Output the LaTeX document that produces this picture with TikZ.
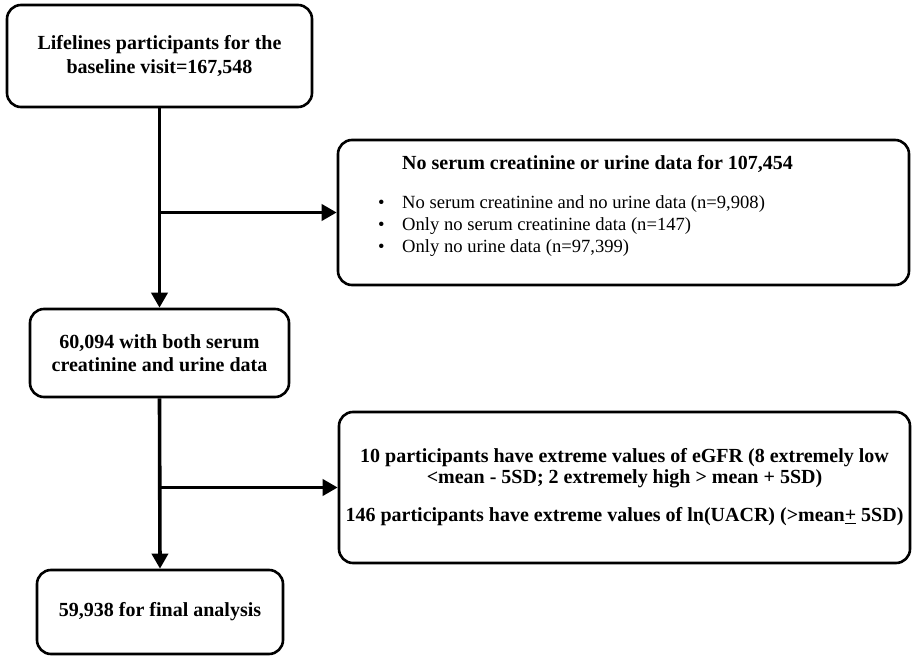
\documentclass[tikz,border=0pt]{standalone}
\usepackage{fontspec}
\setmainfont{Liberation Serif}
\usetikzlibrary{arrows.meta,calc}
\begin{document}
\begin{tikzpicture}[x=1bp,y=-1bp,
  box/.style={draw,line width=2.6bp,rounded corners=14bp,align=center,
    font=\fontsize{20bp}{23.5bp}\selectfont\bfseries,inner sep=0pt},
  bold/.style={font=\fontsize{20bp}{24bp}\selectfont\bfseries,inner sep=0pt},
  plain/.style={font=\fontsize{18.6bp}{22bp}\selectfont,inner sep=0pt},
  flow/.style={line width=3.6bp,-{Triangle[length=15bp,width=16bp]}},
  flowline/.style={line width=3.6bp}]
\useasboundingbox (0,0) rectangle (912,656);
% main boxes
\node[box,minimum width=305bp,minimum height=102bp] (b1) at (159.5,56)
  {Lifelines participants for the\\baseline visit=167,548};
\node[box,minimum width=259bp,minimum height=88bp] (b2) at (159.5,353)
  {60,094 with both serum\\creatinine and urine data};
\node[box,minimum width=246bp,minimum height=84bp] (b3) at (160,612)
  {59,938 for final analysis};
% exclusion boxes
\node[box,minimum width=571bp,minimum height=145bp] (e1) at (623.5,212.5) {};
\node[bold,anchor=base west] (e1t) at (402,170) {No serum creatinine or urine data for 107,454};
\node[plain,anchor=base west] (e1a) at (378,208) {\makebox[24bp][l]{\textbullet}No serum creatinine and no urine data (n=9,908)};
\node[plain,anchor=base west] (e1b) at (378,230) {\makebox[24bp][l]{\textbullet}Only no serum creatinine data (n=147)};
\node[plain,anchor=base west] (e1c) at (378,252) {\makebox[24bp][l]{\textbullet}Only no urine data (n=97,399)};
\node[box,minimum width=571bp,minimum height=151bp,
  font=\fontsize{20bp}{20.5bp}\selectfont\bfseries] (e2) at (624.5,487.5)
  {10 participants have extreme values of eGFR (8 extremely low\\
   {<}mean - 5SD; 2 extremely high {>} mean + 5SD)\\[18bp]
   146 participants have extreme values of ln(UACR) ({>}mean\underline{+} 5SD)};
% connectors
\coordinate (j1) at (b1.south |- e1.west);
\coordinate (j2) at (b2.south |- e2.west);
\draw[flow] (b1.south) -- (b2.north);
\draw[flow] (j1) -- (e1.west);
\draw[flow] (b2.south) -- (b3.north);
\draw[flow] (j2) -- (e2.west);
\end{tikzpicture}
\end{document}
